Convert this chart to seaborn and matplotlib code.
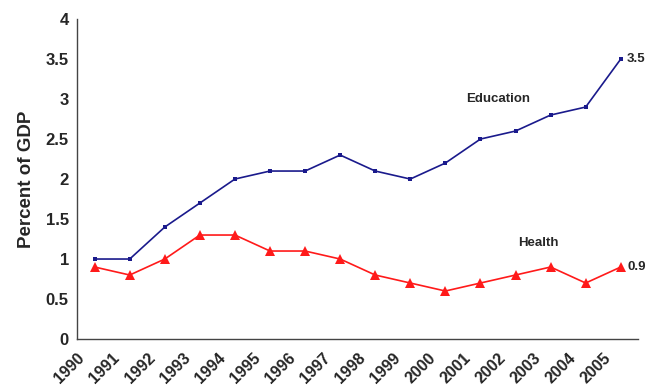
import numpy as np
import pandas as pd
import matplotlib
matplotlib.use('Agg')
import matplotlib.pyplot as plt
import matplotlib.transforms as mtransforms
import seaborn as sns

# data
years = [str(y) for y in range(1990, 2006)]
education = [1.0, 1.0, 1.4, 1.7, 2.0, 2.1, 2.1, 2.3, 2.1, 2.0, 2.2, 2.5, 2.6, 2.8, 2.9, 3.5]
health = [0.9, 0.8, 1.0, 1.3, 1.3, 1.1, 1.1, 1.0, 0.8, 0.7, 0.6, 0.7, 0.8, 0.9, 0.7, 0.9]

sns.set_style('white')
plt.rcParams['font.family'] = ['Liberation Sans', 'DejaVu Sans']

df = pd.DataFrame({'pos': np.arange(len(years)) + 0.5,
                   'Education': education, 'Health': health})

fig = plt.figure(figsize=(6.48, 3.89), dpi=100)
ax = fig.add_axes([0.119, 0.1285, 0.866, 0.8225])

sns.lineplot(data=df, x='pos', y='Education', color='#1a1a8c', marker='s',
             markersize=3.5, markeredgewidth=0, linewidth=1.2, ax=ax)
sns.lineplot(data=df, x='pos', y='Health', color='#ff1a1a', marker='^',
             markersize=6.5, markeredgewidth=0, linewidth=1.2, ax=ax)

ax.set_xlim(0, len(years))
ax.set_ylim(0, 4)
ax.set_yticks(np.arange(0, 4.01, 0.5))
ax.set_yticklabels(['0', '0.5', '1', '1.5', '2', '2.5', '3', '3.5', '4'],
                   fontsize=12, fontweight='bold')
ax.set_xticks(np.arange(len(years)))
ax.set_xticklabels(years, rotation=45, ha='right', rotation_mode='anchor',
                   fontsize=11.5, fontweight='bold')
offset = mtransforms.ScaledTranslation(12 / 72, 0, fig.dpi_scale_trans)
for lbl in ax.get_xticklabels():
    lbl.set_transform(lbl.get_transform() + offset)

ax.set_xlabel('')
ax.set_ylabel('Percent of GDP', fontsize=13.5, fontweight='bold', labelpad=8)

for side in ['top', 'right']:
    ax.spines[side].set_visible(False)
for side in ['left', 'bottom']:
    ax.spines[side].set_color('#444444')
    ax.spines[side].set_linewidth(1.0)
ax.tick_params(axis='both', direction='out', length=4, width=1, color='#444444', pad=2)
ax.tick_params(axis='x', pad=4)

ax.text(12.0, 3.0, 'Education', fontsize=9.5, fontweight='bold', ha='center', va='center')
ax.text(13.15, 1.2, 'Health', fontsize=9.5, fontweight='bold', ha='center', va='center')
ax.text(15.68, education[-1], '3.5', fontsize=9.5, fontweight='bold', va='center')
ax.text(15.68, health[-1], '0.9', fontsize=9.5, fontweight='bold', va='center')

fig.savefig('out.png', dpi=100)
